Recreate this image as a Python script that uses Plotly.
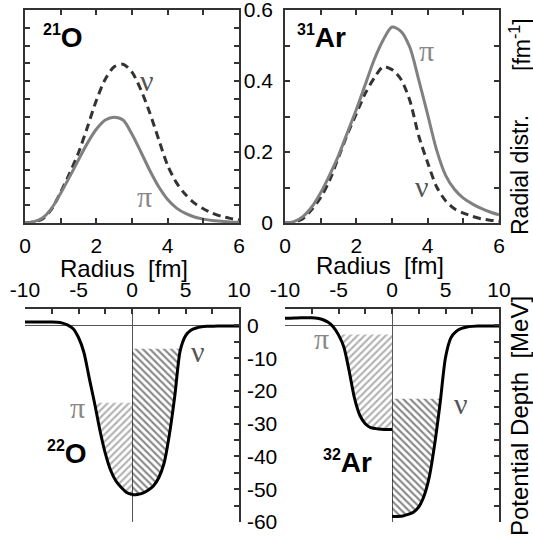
import numpy as np
import plotly.graph_objects as go

# ---------------- data ----------------
radius = [0, 0.25, 0.5, 0.75, 1, 1.25, 1.5, 1.75, 2, 2.25, 2.5, 2.75, 3,
          3.25, 3.5, 3.75, 4, 4.25, 4.5, 4.75, 5, 5.25, 5.5, 5.75, 6]
o21_pi = [0, .004, .015, .042, .084, .13, .178, .225, .264, .29, .298, .29, .25,
          .2, .148, .102, .066, .042, .027, .017, .011, .007, .005, .003, .002]
o21_nu = [0, .003, .012, .04, .087, .14, .198, .27, .345, .405, .44, .447, .425,
          .375, .31, .235, .162, .113, .08, .056, .04, .028, .019, .013, .009]
ar31_pi = [0, .004, .018, .045, .085, .135, .19, .255, .32, .39, .46, .515, .552,
           .54, .495, .403, .305, .206, .135, .095, .07, .054, .041, .031, .023]
ar31_nu = [0, .002, .012, .038, .072, .12, .185, .25, .308, .365, .408, .44, .432,
           .405, .345, .245, .17, .102, .063, .04, .028, .019, .012, .008, .005]

pot_x_left = [-10, -9.5, -9, -8.5, -8, -7.5, -7, -6.5, -6, -5.5, -5, -4.5, -4,
              -3.5, -3, -2.5, -2, -1.5, -1, -0.5, 0]
pot_x_right = [0, 0.5, 1, 1.5, 2, 2.5, 3, 3.5, 4, 4.5, 5, 5.5, 6, 6.5, 7, 7.5,
               8, 8.5, 9, 9.5, 10]
o22_pi_V = [1.0, 1.0, 1.0, 1.0, 1.0, 1.0, 0.95, 0.7, 0.1, -1.0, -3.7, -8.2, -16,
            -23.7, -32, -39, -44.2, -47.5, -49.5, -51, -51.6]
o22_nu_V = [-51.7, -51.6, -51.2, -50.3, -49, -46.5, -42, -33.2, -21.5, -7.8, -3.2,
            -1.5, -0.8, -0.45, -0.3, -0.25, -0.2, -0.2, -0.2, -0.2, -0.2]
ar32_pi_V = [2.2, 2.2, 2.25, 2.3, 2.3, 2.3, 2.2, 1.8, 1.0, -0.4, -2.9, -6.6, -14,
             -22.3, -27.5, -30, -31.2, -31.5, -31.7, -31.8, -31.8]
ar32_nu_V = [-58.3, -58.3, -58.2, -57.7, -57, -55.4, -52, -46, -36, -23.6, -9.8,
             -3.8, -1.8, -0.9, -0.5, -0.3, -0.2, -0.2, -0.2, -0.2, -0.2]
o22_pi_level, o22_nu_level = -23.6, -7.1
ar32_pi_level, ar32_nu_level = -2.8, -22.4

r_ticks = [0, 1, 2, 3, 4, 5, 6]
r_ticktext = ['0', '', '2', '', '4', '', '6']
rad_ticks = [round(0.05 * i, 2) for i in range(13)]
rad_ticks10 = [round(0.1 * i, 1) for i in range(7)]
rad_ticktext10 = ['0', '', '0.2', '', '0.4', '', '0.6']
px_ticks = [-10, -7.5, -5, -2.5, 0, 2.5, 5, 7.5, 10]
px_ticktext = ['-10', '', '-5', '', '0', '', '5', '', '10']
v_ticks = [0, -5, -10, -15, -20, -25, -30, -35, -40, -45, -50, -55, -60]
v_ticktext = ['0', '', '-10', '', '-20', '', '-30', '', '-40', '', '-50', '', '-60']

# ---------------- layout helpers ----------------
W, H = 533, 539
def fx(p): return p / W
def fy(p): return 1 - p / H

XL = [fx(25), fx(239)]
XR = [fx(285), fx(499)]
YT = [fy(223), fy(10)]
YB = [fy(522), fy(309)]

SANS = "Liberation Sans, Arial, Helvetica, sans-serif"
SERIF = "Liberation Serif, Times New Roman, serif"
AX = "#333333"
PI_C = "#888888"
NU_C = "#555555"

fig = go.Figure()

# top panels
fig.add_trace(go.Scatter(x=radius, y=o21_nu, mode='lines', xaxis='x', yaxis='y',
                         line=dict(color='#333333', width=3, dash='8px,5px', shape='spline', smoothing=0.8)))
fig.add_trace(go.Scatter(x=radius, y=o21_pi, mode='lines', xaxis='x', yaxis='y',
                         line=dict(color='#808080', width=3, shape='spline', smoothing=0.8)))
fig.add_trace(go.Scatter(x=radius, y=ar31_nu, mode='lines', xaxis='x2', yaxis='y2',
                         line=dict(color='#333333', width=3, dash='8px,5px', shape='spline', smoothing=0.8)))
fig.add_trace(go.Scatter(x=radius, y=ar31_pi, mode='lines', xaxis='x2', yaxis='y2',
                         line=dict(color='#808080', width=3, shape='spline', smoothing=0.8)))


def hatch_poly(xs, vs, level):
    px, py = [], []
    n = len(xs)
    for i in range(n):
        if i > 0 and (vs[i - 1] - level) * (vs[i] - level) < 0:
            t = (level - vs[i - 1]) / (vs[i] - vs[i - 1])
            px.append(xs[i - 1] + t * (xs[i] - xs[i - 1]))
            py.append(level)
        if vs[i] <= level:
            px.append(xs[i])
            py.append(vs[i])
    if py[0] != level:
        px.insert(0, px[0]); py.insert(0, level)
    if py[-1] != level:
        px.append(px[-1]); py.append(level)
    return px, py


def add_hatch(xs, vs, level, shape, color, xa, ya):
    hx, hy = hatch_poly(xs, vs, level)
    fig.add_trace(go.Scatter(x=hx, y=hy, mode='lines', fill='toself', xaxis=xa, yaxis=ya,
                             line=dict(width=0, color='rgba(0,0,0,0)'),
                             fillcolor='rgba(0,0,0,0)',
                             fillpattern=dict(shape=shape, fgcolor=color, bgcolor='rgba(255,255,255,0)',
                                              size=5, solidity=0.42)))


add_hatch(pot_x_left, o22_pi_V, o22_pi_level, '/', '#666666', 'x3', 'y3')
add_hatch(pot_x_right, o22_nu_V, o22_nu_level, '\\', '#111111', 'x3', 'y3')
add_hatch(pot_x_left, ar32_pi_V, ar32_pi_level, '/', '#666666', 'x4', 'y4')
add_hatch(pot_x_right, ar32_nu_V, ar32_nu_level, '\\', '#111111', 'x4', 'y4')

for xs, vs, xa, ya in [(pot_x_left, o22_pi_V, 'x3', 'y3'), (pot_x_right, o22_nu_V, 'x3', 'y3'),
                       (pot_x_left, ar32_pi_V, 'x4', 'y4'), (pot_x_right, ar32_nu_V, 'x4', 'y4')]:
    fig.add_trace(go.Scatter(x=xs, y=vs, mode='lines', xaxis=xa, yaxis=ya,
                             line=dict(color='black', width=3, shape='spline', smoothing=0.7)))

tickfont = dict(family=SANS, size=21, color='black')

def top_x(domain, anchor):
    return dict(domain=domain, anchor=anchor, range=[0, 6], showline=True, linecolor=AX, linewidth=1.5,
                mirror='allticks', ticks='inside', ticklen=5, tickcolor=AX, tickwidth=1.5,
                tickmode='array', tickvals=r_ticks, ticktext=r_ticktext, tickfont=tickfont,
                showgrid=False, zeroline=False, ticklabelstandoff=3, automargin=False,
                ticklabeloverflow='allow')

def bot_x(domain, anchor):
    return dict(domain=domain, anchor=anchor, side='top', range=[-10, 10], showline=True,
                linecolor=AX, linewidth=1.5, ticks='inside', ticklen=5, tickcolor=AX, tickwidth=1.5,
                tickmode='array', tickvals=px_ticks, ticktext=px_ticktext, tickfont=tickfont,
                showgrid=False, zeroline=True, zerolinecolor='#555555', zerolinewidth=1,
                ticklabelstandoff=2, automargin=False, ticklabeloverflow='allow')

layout = dict(
    width=W, height=H, margin=dict(l=0, r=0, t=0, b=0, autoexpand=False),
    paper_bgcolor='white', plot_bgcolor='rgba(0,0,0,0)', showlegend=False,
    xaxis=top_x(XL, 'y'),
    yaxis=dict(domain=YT, anchor='x', range=[0, 0.6], side='right', showline=True, linecolor=AX,
               linewidth=1.5, mirror='allticks', ticks='inside', ticklen=5, tickcolor=AX, tickwidth=1.5,
               tickmode='array', tickvals=rad_ticks, showticklabels=False, showgrid=False, zeroline=False,
               automargin=False),
    xaxis2=top_x(XR, 'y2'),
    yaxis2=dict(domain=YT, anchor='x2', range=[0, 0.6], side='left', showline=True, linecolor=AX,
                linewidth=1.5, mirror='allticks', ticks='inside', ticklen=5, tickcolor=AX, tickwidth=1.5,
                tickmode='array', tickvals=rad_ticks10, ticktext=rad_ticktext10, tickfont=tickfont,
                showgrid=False, zeroline=False, ticklabelstandoff=6, automargin=False,
                ticklabeloverflow='allow'),
    xaxis3=bot_x(XL, 'y3'),
    yaxis3=dict(domain=YB, anchor='x3', range=[-60, 5], side='right', showline=True, linecolor=AX,
                linewidth=1.5, ticks='inside', ticklen=5, tickcolor=AX, tickwidth=1.5,
                tickmode='array', tickvals=v_ticks, ticktext=v_ticktext, tickfont=tickfont,
                showgrid=False, zeroline=True, zerolinecolor='#555555', zerolinewidth=1,
                ticklabelstandoff=2, automargin=False, ticklabeloverflow='allow'),
    xaxis4=bot_x(XR, 'y4'),
    yaxis4=dict(domain=YB, anchor='x4', range=[-60, 5], side='right', showline=True, linecolor=AX,
                linewidth=1.5, ticks='inside', ticklen=5, tickcolor=AX, tickwidth=1.5,
                tickmode='array', tickvals=v_ticks, showticklabels=False,
                showgrid=False, zeroline=True, zerolinecolor='#555555', zerolinewidth=1,
                automargin=False),
)
fig.update_layout(**layout)

ann = []
def A(text, x, y, size, family=SANS, color='black', angle=0):
    ann.append(dict(text=text, x=fx(x), y=fy(y), xref='paper', yref='paper', showarrow=False,
                    xanchor='center', yanchor='middle', textangle=angle,
                    font=dict(family=family, size=size, color=color)))

def nuc(mass, sym):
    return "<b><sup><span style='font-size:16px'>%s</span></sup>%s</b>" % (mass, sym)

# nucleus labels
A(nuc('21', 'O'), 63, 37, 28)
A(nuc('31', 'Ar'), 321, 37, 28)
A(nuc('22', 'O'), 67, 453, 28)
A(nuc('32', 'Ar'), 347, 462, 28)
# greek labels
A('ν', 147, 80, 30, SERIF, NU_C)
A('π', 144, 196, 30, SERIF, PI_C)
A('π', 426, 51, 30, SERIF, PI_C)
A('ν', 422, 187, 30, SERIF, NU_C)
A('π', 77, 407, 30, SERIF, PI_C)
A('ν', 198, 351, 30, SERIF, NU_C)
A('π', 321, 338, 30, SERIF, PI_C)
A('ν', 461, 403, 30, SERIF, NU_C)
# axis titles
A('Radius\u00a0\u00a0[fm]', 124, 268, 24)
A('Radius\u00a0\u00a0[fm]', 380, 265, 24)
A('Radial distr.', 520, 175, 23, angle=-90)
A('[fm<sup>-1</sup>]', 520, 45, 23, angle=-90)
A('Potential Depth\u00a0\u00a0[MeV]', 519, 416, 24, angle=-90)
fig.update_layout(annotations=ann)

fig.write_html("out.html", config={'displayModeBar': False},
               post_script="document.body.style.margin='0px';document.body.style.overflow='hidden';")
